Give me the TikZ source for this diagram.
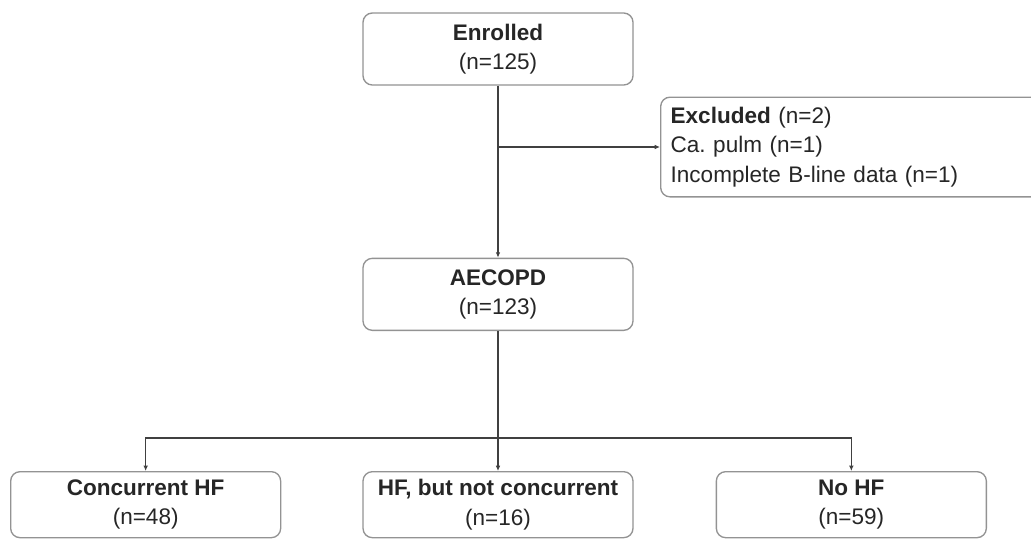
\documentclass[tikz,border=0pt]{standalone}
\usepackage{fontspec}
\setmainfont{Liberation Sans}
\usetikzlibrary{arrows.meta, positioning}

\begin{document}
\begin{tikzpicture}[x=0.75pt, y=-0.75pt, >={Latex[length=4pt,width=3.5pt]}, thick,
  node distance=2cm,
  box/.style={draw=gray!85, line width=1pt, rounded corners=7pt, fill=white,
    text=black!85, minimum width=202.5pt, minimum height=54pt, align=center,
    font=\fontsize{16.9}{22}\selectfont},
  flow/.style={->, draw=black!75, line width=0.8pt}]

\useasboundingbox (0,0) rectangle (1031,540);
\clip (0,0) rectangle (1031,540);

\node[box] (enrolled) at (498,49) {\textbf{Enrolled}\\(n=125)};
\node[box] (aecopd) [below=129pt of enrolled] {\textbf{AECOPD}\\(n=123)};
\node[box, anchor=west, align=left, minimum width=315pt, minimum height=66pt,
  text width=300pt, inner sep=7.5pt] (excluded) at (660,147)
  {\textbf{Excluded} (n=2)\\Ca.\ pulm (n=1)\\Incomplete B-line data (n=1)};

\node[box, minimum height=49.5pt] (hfnc) [below=105pt of aecopd] {\textbf{HF, but not concurrent}\\(n=16)};
\node[box, minimum height=49.5pt] (conc) [left=60.75pt of hfnc] {\textbf{Concurrent HF}\\(n=48)};
\node[box, minimum height=49.5pt] (nohf) [right=61.5pt of hfnc] {\textbf{No HF}\\(n=59)};

% connectors
\coordinate (split) at (enrolled |- excluded.west);
\coordinate[below=80.25pt of aecopd.south] (fork);

\path
(enrolled) edge[flow] (aecopd)
(split) edge[flow] (excluded);
\draw[flow, -] (aecopd) -- (fork);
\draw[flow] (fork) -- (hfnc);
\draw[flow] (fork) -| (conc);
\draw[flow] (fork) -| (nohf);
\end{tikzpicture}
\end{document}
